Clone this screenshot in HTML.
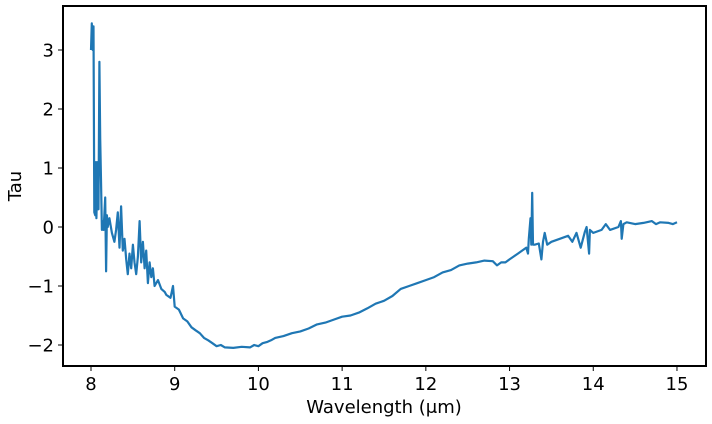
<!DOCTYPE html>
<html><head><meta charset="utf-8"><style>
body{margin:0;background:#fff;}
svg{display:block;font-family:"DejaVu Sans","Liberation Sans",sans-serif;}
</style></head><body>
<svg id="chart" width="712" height="424">
<rect x="63" y="6" width="643" height="360" fill="#fff" stroke="#000" stroke-width="2"/>
<g id="axes"></g>
<path id="line" fill="none" stroke="#1f77b4" stroke-width="2.2" stroke-linejoin="round"/>
<text x="384" y="413" text-anchor="middle" font-size="18">Wavelength (μm)</text>
<text transform="translate(21,186) rotate(-90)" text-anchor="middle" font-size="18">Tau</text>
</svg>
<script>
const wavelengths=[8.00,8.01,8.02,8.03,8.04,8.05,8.06,8.065,8.08,8.09,8.10,8.11,8.12,8.13,8.14,8.15,8.17,8.18,8.19,8.2,8.22,8.25,8.28,8.3,8.32,8.34,8.36,8.38,8.4,8.42,8.44,8.46,8.48,8.5,8.52,8.54,8.56,8.58,8.6,8.62,8.64,8.66,8.68,8.7,8.72,8.74,8.76,8.8,8.84,8.88,8.9,8.95,8.98,9.0,9.05,9.1,9.15,9.2,9.25,9.3,9.35,9.4,9.45,9.5,9.55,9.6,9.7,9.8,9.9,9.95,10.0,10.05,10.1,10.15,10.2,10.3,10.4,10.5,10.6,10.7,10.8,10.9,11.0,11.1,11.2,11.3,11.4,11.5,11.6,11.7,11.8,11.9,12.0,12.1,12.2,12.3,12.4,12.5,12.6,12.7,12.8,12.85,12.9,12.95,13.0,13.05,13.1,13.15,13.2,13.22,13.23,13.25,13.26,13.27,13.28,13.3,13.35,13.38,13.4,13.42,13.45,13.5,13.6,13.7,13.75,13.8,13.85,13.9,13.92,13.95,13.96,14.0,14.1,14.15,14.2,14.3,14.33,14.34,14.36,14.4,14.5,14.6,14.7,14.75,14.8,14.9,14.95,15.0];
const tau=[3.0,3.45,3.0,3.4,0.25,0.2,1.1,0.15,1.1,0.3,2.8,1.5,0.8,-0.05,0.1,-0.05,0.5,-0.75,0.2,0.0,0.15,-0.1,-0.25,-0.05,0.25,-0.35,0.35,-0.4,-0.2,-0.55,-0.8,-0.45,-0.7,-0.3,-0.6,-0.8,-0.5,0.1,-0.6,-0.25,-0.7,-0.4,-0.95,-0.6,-0.85,-0.7,-1.0,-0.9,-1.05,-1.1,-1.15,-1.2,-1.0,-1.35,-1.4,-1.55,-1.6,-1.7,-1.75,-1.8,-1.88,-1.92,-1.97,-2.02,-2.0,-2.04,-2.05,-2.03,-2.04,-2.0,-2.02,-1.97,-1.95,-1.92,-1.88,-1.85,-1.8,-1.77,-1.72,-1.65,-1.62,-1.57,-1.52,-1.5,-1.45,-1.38,-1.3,-1.25,-1.17,-1.05,-1.0,-0.95,-0.9,-0.85,-0.77,-0.73,-0.65,-0.62,-0.6,-0.57,-0.58,-0.65,-0.6,-0.6,-0.55,-0.5,-0.45,-0.4,-0.35,-0.45,-0.2,0.15,-0.3,0.58,-0.3,-0.3,-0.28,-0.55,-0.25,-0.1,-0.3,-0.25,-0.2,-0.15,-0.25,-0.1,-0.35,-0.08,0.0,-0.45,-0.05,-0.1,-0.05,0.05,-0.05,0.0,0.1,-0.2,0.05,0.08,0.05,0.07,0.1,0.05,0.08,0.07,0.05,0.08];
const xTicks=[8,9,10,11,12,13,14,15];
const yTicks=[-2,-1,0,1,2,3];
const yTickLabels=["\u22122","\u22121","0","1","2","3"];
const xs=w=>91+(w-8)*83.71;
const ys=t=>227-t*59;
const NS="http://www.w3.org/2000/svg";
const axes=document.getElementById('axes');
xTicks.forEach(v=>{
  const l=document.createElementNS(NS,'line');
  l.setAttribute('x1',xs(v));l.setAttribute('x2',xs(v));l.setAttribute('y1',366);l.setAttribute('y2',371);l.setAttribute('stroke','#000');
  
  
  axes.appendChild(l);
  const t=document.createElementNS(NS,'text');
  t.setAttribute('x',xs(v));t.setAttribute('y',390);t.setAttribute('text-anchor','middle');t.setAttribute('font-size','18');
  t.textContent=v;
  
  
  axes.appendChild(t);
});
yTicks.forEach((v,i)=>{
  const l=document.createElementNS(NS,'line');
  l.setAttribute('x1',58);l.setAttribute('x2',63);l.setAttribute('y1',ys(v));l.setAttribute('y2',ys(v));l.setAttribute('stroke','#000');
  
  
  axes.appendChild(l);
  const t=document.createElementNS(NS,'text');
  t.setAttribute('x',54);t.setAttribute('y',ys(v)+6.5);t.setAttribute('text-anchor','end');t.setAttribute('font-size','18');
  t.textContent=yTickLabels[i];
  
  
  axes.appendChild(t);
});
document.getElementById('line').setAttribute('d',wavelengths.map((w,i)=>(i?'L':'M')+xs(w).toFixed(1)+' '+ys(tau[i]).toFixed(1)).join(''));
</script>
</body></html>
